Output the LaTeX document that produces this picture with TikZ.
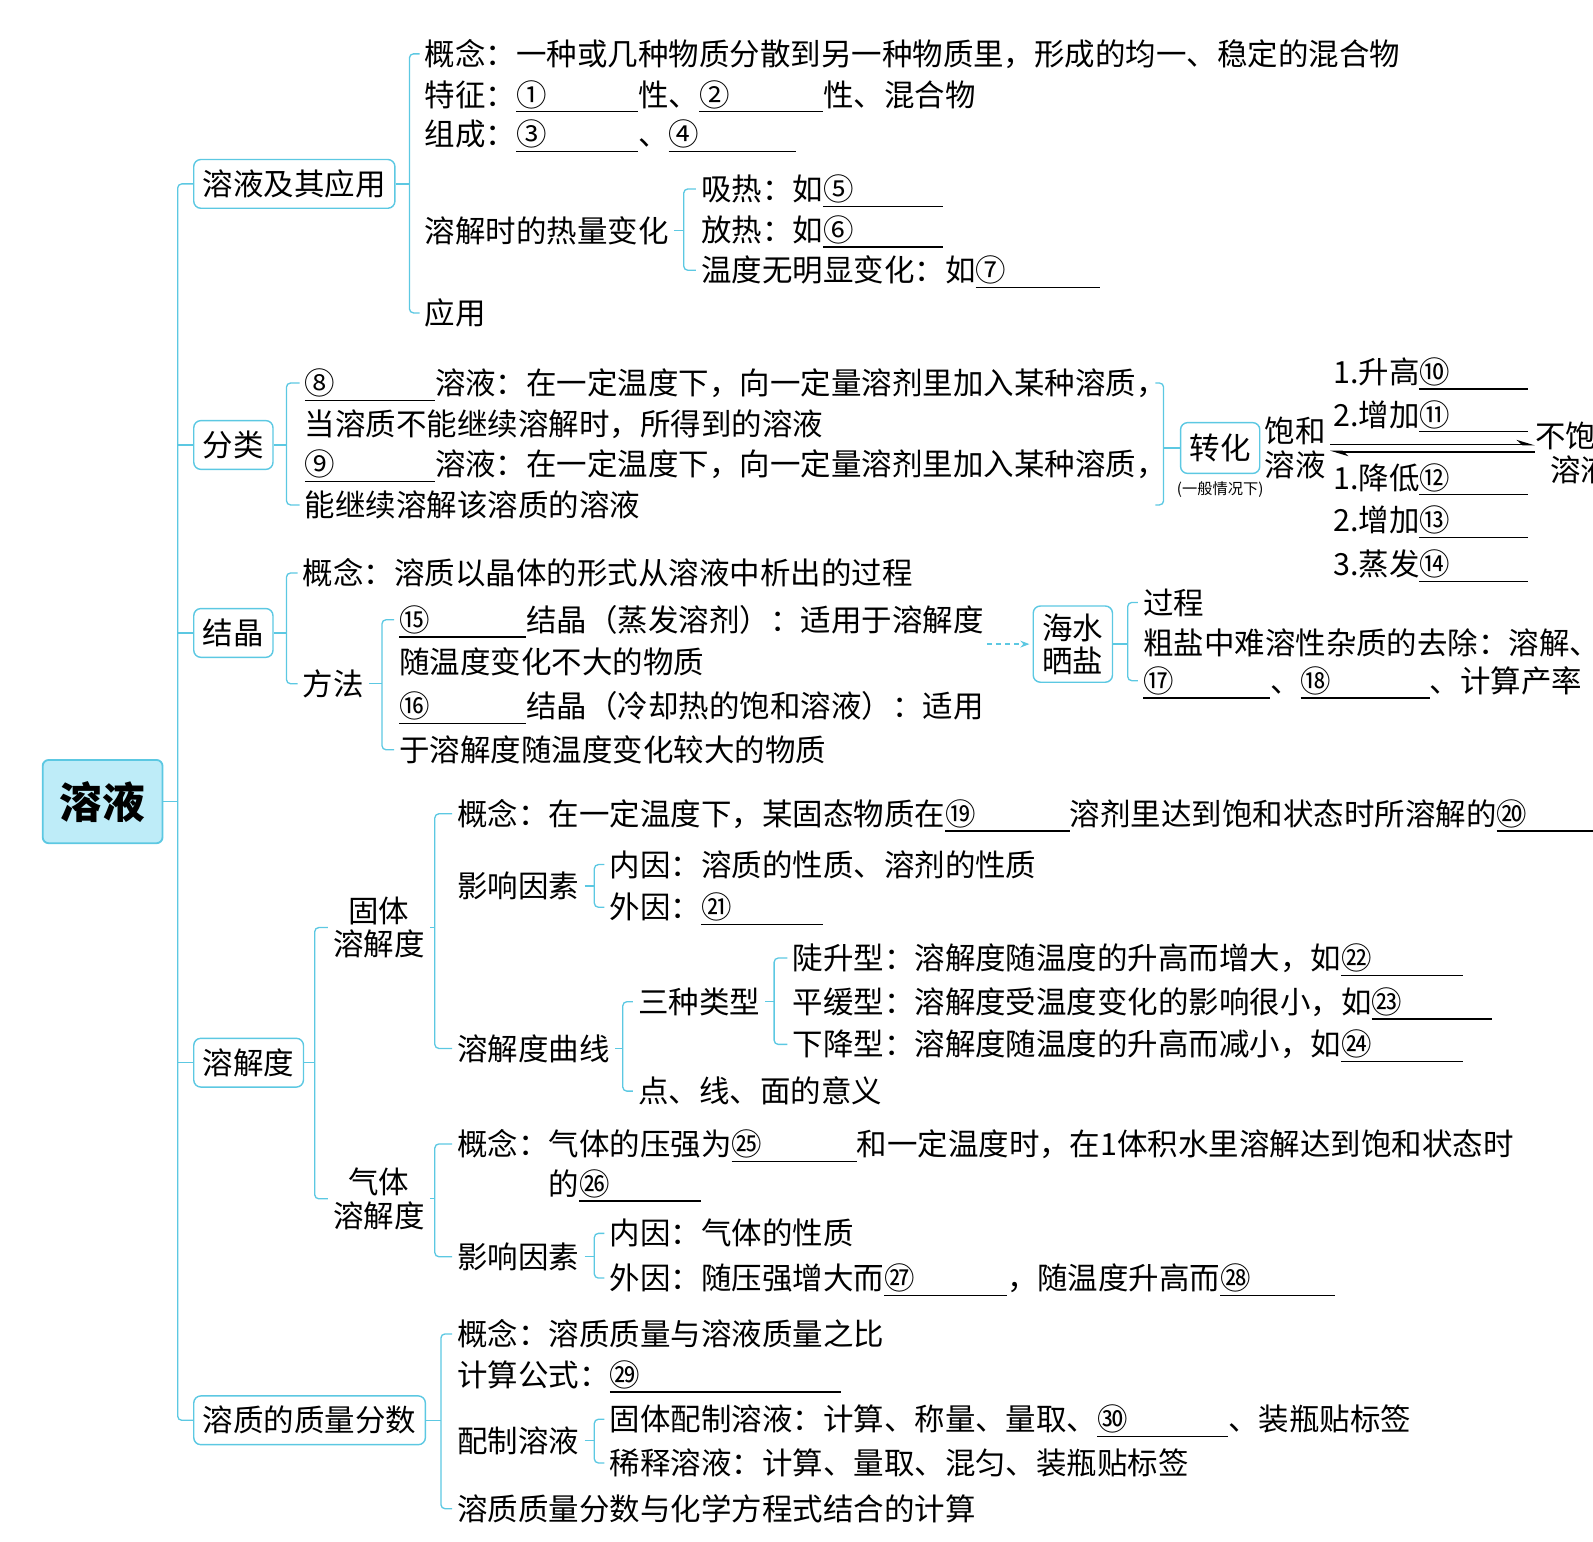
\documentclass[tikz,border=0pt]{standalone}
\usepackage{fontspec}
\setmainfont{Noto Sans CJK SC}
\usetikzlibrary{arrows.meta, calc}
\definecolor{brcyan}{RGB}{92,200,226}
\definecolor{rootfill}{RGB}{190,236,248}
\newcommand{\blank}[2]{\rlap{#1}\rule[-0.21em]{#2pt}{1.3pt}}
\newcommand{\brk}[4][12]{%
  \path (#3.west) ++(-#1,0) coordinate (bx);
  \draw[brline] (#3.west) -- (bx) |- (#4.west);
  \draw[brline] (#2.east) -- (#2.east -| bx);}

\begin{document}
\begin{tikzpicture}[x=1pt, y=-1pt, every node/.style={font=\fontsize{30}{33}\selectfont},
  txt/.style={anchor=west, inner xsep=5pt, inner ysep=0pt, xshift=-5pt, text height=26.4pt, text depth=3.6pt},
  twoline/.style={align=center, inner xsep=5pt, inner ysep=0pt},
  lvbox/.style={draw=brcyan, line width=1.4pt, rounded corners=7pt, inner xsep=9pt, inner ysep=0pt, minimum height=48pt, anchor=west},
  rootbox/.style={draw=brcyan, fill=rootfill, line width=1.8pt, rounded corners=6pt, minimum width=118pt, minimum height=82pt, font=\bfseries\fontsize{42}{42}\selectfont},
  brline/.style={draw=brcyan, line width=1.3pt, rounded corners=4pt},
  dasharr/.style={draw=brcyan, line width=1.3pt, dash pattern=on 5pt off 4pt, -{Stealth[length=9pt, fill=brcyan]}, shorten >=3pt},
  harp/.style={line width=1.8pt, -{Stealth[harpoon, length=15pt, width=9pt]}}]
  \useasboundingbox (0,0) rectangle (1568,1517);

  \node[rootbox] (sol) at (101,789) {溶液};
  \node[lvbox] (solapp) at (190,181) {溶液及其应用};
  \node[lvbox] (classify) at (190,438) {分类};
  \node[lvbox] (crystal) at (190,623) {结晶};
  \node[lvbox] (solub) at (190,1046) {溶解度};
  \node[lvbox] (massfrac) at (190,1398) {溶质的质量分数};
  \draw[brline] (sol.east) -- ++(14,0) coordinate (trunk);
  \draw[brline] (solapp.west) -- (solapp.west -| trunk) |- (massfrac.west);
  \foreach \b in {classify, crystal, solub} \draw[brline] (trunk |- \b.west) -- (\b.west);

  % 溶液及其应用
  \node[txt] (app1) at (418,53) {概念：一种或几种物质分散到另一种物质里，形成的均一、稳定的混合物};
  \node[txt] (app2) at (418,93) {特征：\blank{①}{120}性、\blank{②}{122}性、混合物};
  \node[txt] (app3) at (418,132) {组成：\blank{③}{120}、\blank{④}{125}};
  \node[txt] (heat) at (418,227) {溶解时的热量变化};
  \node[txt] (app5) at (418,308) {应用};
  \brk[10]{solapp}{app1}{app5}
  \node[txt] (heat1) at (690,186) {吸热：如\blank{⑤}{118}};
  \node[txt] (heat2) at (690,226) {放热：如\blank{⑥}{118}};
  \node[txt] (heat3) at (690,266) {温度无明显变化：如\blank{⑦}{123}};
  \brk[12]{heat}{heat1}{heat3}

  % 分类
  \node[txt] (sat1) at (300,377) {\blank{⑧}{128}溶液：在一定温度下，向一定量溶剂里加入某种溶质，};
  \node[txt] (sat2) at (300,417) {当溶质不能继续溶解时，所得到的溶液};
  \node[txt] (sat3) at (300,457) {\blank{⑨}{128}溶液：在一定温度下，向一定量溶剂里加入某种溶质，};
  \node[txt] (sat4) at (300,497) {能继续溶解该溶质的溶液};
  \brk[13]{classify}{sat1}{sat4}
  \node[lvbox, anchor=center, minimum width=77pt, minimum height=50pt] (conv) at (1201,441) {转化};
  \node[font=\fontsize{15}{15}\selectfont, inner sep=0pt] (convnote) at (1201,482) {(一般情况下)};
  \path (conv.west) ++(-16,0) coordinate (cvx);
  \draw[brline] ($(cvx |- sat1.east)+(-8,0)$) -- (cvx |- sat1.east) -- (cvx |- sat4.east) -- ++(-8,0);
  \draw[brline] (cvx) -- (conv.west);
  \node[twoline, inner xsep=4pt] (satd) at (1275,441) {饱和\\溶液};
  \node[twoline, inner xsep=0pt] (unsat) at (1556,446) {不饱和\\溶液};
  \draw[harp] ($(satd.east)+(0,-3.5)$) -- ($(satd.east -| unsat.west)+(0,-3.5)$);
  \draw[harp] ($(satd.east -| unsat.west)+(0,3.5)$) -- ($(satd.east)+(0,3.5)$);
  \node[txt] (up1) at (1312,366) {1.升高\blank{⑩}{107}};
  \node[txt] (up2) at (1312,408) {2.增加\blank{⑪}{107}};
  \node[txt] (dn1) at (1312,470) {1.降低\blank{⑫}{107}};
  \node[txt] (dn2) at (1312,512) {2.增加\blank{⑬}{107}};
  \node[txt] (dn3) at (1312,555) {3.蒸发\blank{⑭}{107}};

  % 结晶
  \node[txt] (cry1) at (298,564) {概念：溶质以晶体的形式从溶液中析出的过程};
  \node[txt] (method) at (298,673) {方法};
  \brk[11]{crystal}{cry1}{method}
  \node[txt] (way1) at (393,610) {\blank{⑮}{125}结晶（蒸发溶剂）：适用于溶解度};
  \node[txt] (way2) at (393,652) {随温度变化不大的物质};
  \node[txt] (way3) at (393,695) {\blank{⑯}{125}结晶（冷却热的饱和溶液）：适用};
  \node[txt] (way4) at (393,738) {于溶解度随温度变化较大的物质};
  \brk[12]{method}{way1}{way4}
  \node[lvbox, anchor=center, minimum width=77pt, minimum height=75pt, align=center] (sea) at (1056,634) {海水\\晒盐};
  \draw[dasharr] ($(sea.west)+(-45,0)$) -- (sea.west);
  \node[txt] (salt1) at (1125,593) {过程};
  \node[txt] (salt2) at (1125,633) {粗盐中难溶性杂质的去除：溶解、};
  \node[txt] (salt3) at (1125,670) {\blank{⑰}{125}、\blank{⑱}{127}、计算产率};
  \brk[10]{sea}{salt1}{salt3}

  % 溶解度
  \node[twoline] (solid) at (373,913) {固体\\溶解度};
  \node[twoline] (gas) at (373,1180) {气体\\溶解度};
  \brk[13]{solub}{solid}{gas}
  \node[txt] (sd1) at (450,801) {概念：在一定温度下，某固态物质在\blank{⑲}{123}溶剂里达到饱和状态时所溶解的\blank{⑳}{120}};
  \node[txt] (sdf) at (450,872) {影响因素};
  \node[txt] (sdc) at (450,1032) {溶解度曲线};
  \brk[17]{solid}{sd1}{sdc}
  \node[txt] (sdf1) at (600,851) {内因：溶质的性质、溶剂的性质};
  \node[txt] (sdf2) at (600,893) {外因：\blank{㉑}{120}};
  \brk[10]{sdf}{sdf1}{sdf2}
  \node[txt] (kind) at (628,986) {三种类型};
  \node[txt] (mean) at (628,1074) {点、线、面的意义};
  \brk[10]{sdc}{kind}{mean}
  \node[txt] (kind1) at (780,943) {陡升型：溶解度随温度的升高而增大，如\blank{㉒}{120}};
  \node[txt] (kind2) at (780,986) {平缓型：溶解度受温度变化的影响很小，如\blank{㉓}{118}};
  \node[txt] (kind3) at (780,1028) {下降型：溶解度随温度的升高而减小，如\blank{㉔}{120}};
  \brk[13]{kind}{kind1}{kind3}
  \node[txt] (gs1) at (450,1126) {概念：气体的压强为\blank{㉕}{123}和一定温度时，在1体积水里溶解达到饱和状态时};
  \node[txt] (gs1b) at (540,1165) {的\blank{㉖}{120}};
  \node[txt] (gsf) at (450,1237) {影响因素};
  \brk[17]{gas}{gs1}{gsf}
  \node[txt] (gsf1) at (600,1214) {内因：气体的性质};
  \node[txt] (gsf2) at (600,1258) {外因：随压强增大而\blank{㉗}{121}，随温度升高而\blank{㉘}{113}};
  \brk[10]{gsf}{gsf1}{gsf2}

  % 溶质的质量分数
  \node[txt] (mf1) at (450,1313) {概念：溶质质量与溶液质量之比};
  \node[txt] (mf2) at (450,1353) {计算公式：\blank{㉙}{228}};
  \node[txt] (prep) at (450,1418) {配制溶液};
  \node[txt] (mf4) at (450,1485) {溶质质量分数与化学方程式结合的计算};
  \brk[11]{massfrac}{mf1}{mf4}
  \node[txt] (prep1) at (600,1397) {固体配制溶液：计算、称量、量取、\blank{㉚}{129}、装瓶贴标签};
  \node[txt] (prep2) at (600,1440) {稀释溶液：计算、量取、混匀、装瓶贴标签};
  \brk[10]{prep}{prep1}{prep2}
\end{tikzpicture}
\end{document}
